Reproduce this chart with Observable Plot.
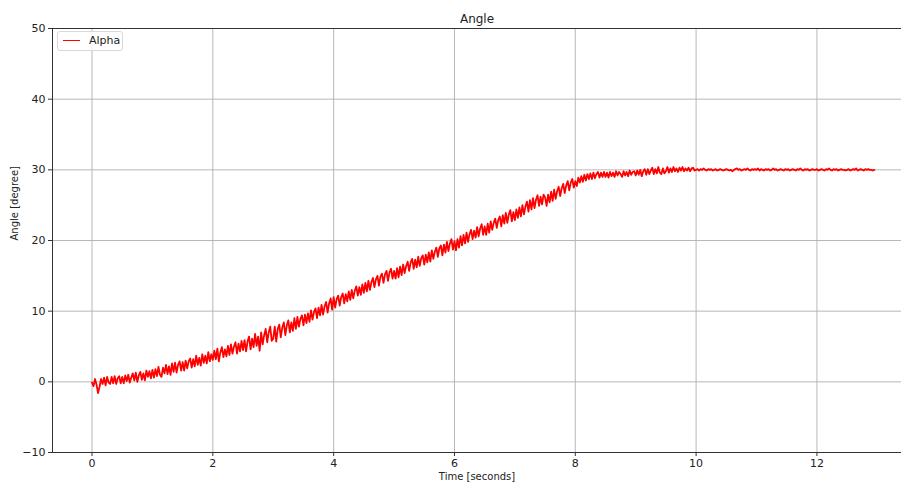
<!DOCTYPE html>
<html><head><meta charset="utf-8">
<script src="https://cdn.jsdelivr.net/npm/d3@7"></script>
<script src="https://cdn.jsdelivr.net/npm/@observablehq/plot@0.6"></script>
<style>
html,body{margin:0;padding:0;background:#fff;overflow:hidden}
#wrap{position:relative;width:901px;height:484px}
.legend{position:absolute;left:57px;top:31px;width:64px;height:18px;border:1px solid #d8d8d8;border-radius:3px;background:rgba(255,255,255,0.85);font:11px "DejaVu Sans",sans-serif;color:#222}
.legend .sw{position:absolute;left:5px;top:8px;width:17px;height:0;border-top:1.8px solid #ff0000}
.legend .lb{position:absolute;left:31px;top:2px}
</style></head>
<body>
<div id="wrap"><div id="chart"></div>
<div class="legend"><span class="sw"></span><span class="lb">Alpha</span></div>
</div>
<script>
const title = "Angle";
const xLabel = "Time [seconds]";
const yLabel = "Angle [degree]";
const seriesName = "Alpha";
const t0 = 0, dt = 0.025;
const xTicks = [0, 2, 4, 6, 8, 10, 12];
const yTicks = [-10, 0, 10, 20, 30, 40, 50];
const alpha = [
 -0.1,-0.6,0.4,-0.4,-1.6,-0.7,0.4,-0.3,0.6,-0.5,0.7,-0.1,-0.3,0.7,-0.2,0.8,-0.3,0.5,0.8,-0.2,
 0.7,-0.2,0.9,0.1,1.0,-0.1,0.6,1.2,0.2,1.3,0.0,0.9,1.4,0.3,1.2,0.2,1.6,0.7,1.5,0.5,
 1.7,0.6,1.8,0.8,2.1,1.0,0.7,2.0,1.2,2.4,1.1,2.2,1.0,2.6,1.4,2.7,1.3,2.4,2.9,1.6,
 2.8,1.6,3.0,1.9,2.9,3.3,2.0,3.2,2.2,3.7,2.4,3.4,2.3,3.9,2.7,3.7,2.6,4.2,2.9,3.9,
 3.1,4.4,3.2,4.7,2.9,4.2,4.9,3.5,4.6,3.6,5.1,3.8,5.3,4.0,5.0,5.6,4.0,5.4,4.3,5.8,
 4.5,5.9,4.3,5.7,6.4,4.6,6.1,4.9,6.8,5.1,6.4,4.4,7.0,5.3,6.6,7.5,5.6,7.0,7.8,5.8,
 6.1,7.8,5.7,7.5,8.1,6.3,7.7,8.4,6.6,8.0,8.7,7.0,8.4,7.2,9.0,7.5,9.2,7.8,8.9,9.4,
 8.0,9.5,8.3,9.7,8.5,10.1,8.8,9.9,10.4,9.0,10.5,9.4,10.9,9.5,10.7,11.3,9.8,11.1,11.8,10.2,
 12.0,10.5,11.7,12.2,10.8,12.0,12.5,11.1,12.4,11.4,12.8,11.6,13.0,11.8,12.9,13.5,12.2,13.4,12.3,13.8,
 12.6,14.0,12.8,14.3,13.0,14.1,14.7,13.4,14.5,15.0,13.6,14.9,15.3,14.0,15.2,15.7,14.3,15.5,16.0,14.6,
 15.7,14.6,16.1,14.8,16.3,15.1,16.6,15.4,16.4,17.0,15.7,16.9,17.4,16.0,17.3,16.2,17.7,16.4,17.5,17.9,
 16.6,18.0,16.9,18.3,17.0,18.6,17.4,18.4,19.0,17.7,18.9,19.3,17.9,19.4,18.3,19.8,18.5,19.6,20.2,18.7,
 19.9,18.6,20.2,19.0,20.6,19.3,20.8,19.6,21.1,19.8,20.9,21.5,20.2,21.4,20.4,21.9,20.6,21.7,22.3,20.8,
 22.0,20.8,22.4,21.1,22.7,21.5,22.5,23.1,21.8,22.9,23.4,22.0,23.6,22.4,23.9,22.5,23.7,24.3,22.7,24.0,
 22.9,24.4,23.2,24.7,23.4,25.0,23.7,24.8,25.5,24.1,25.7,24.4,26.0,24.6,25.8,26.4,24.9,26.2,25.1,26.5,
 26.1,24.9,26.5,25.4,26.9,25.6,27.2,25.9,27.0,27.6,26.3,27.4,28.0,26.7,27.8,28.4,27.1,28.2,28.7,27.5,
 28.4,27.7,28.9,28.2,29.1,28.3,29.3,28.5,29.4,28.7,29.5,28.7,29.6,28.8,29.4,29.7,28.9,29.6,29.0,29.7,
 29.0,29.6,28.9,29.7,29.1,29.6,29.0,29.8,29.2,29.7,29.4,29.0,29.8,29.2,29.7,29.1,29.9,29.3,29.7,29.8,
 29.2,29.9,29.3,30.0,29.1,29.8,30.1,29.3,30.1,29.4,29.9,30.3,29.4,30.1,29.5,30.4,29.6,29.4,30.2,29.5,
 29.8,30.4,29.6,30.2,29.7,30.4,29.8,30.2,29.7,30.3,29.9,30.4,29.8,30.2,29.9,30.3,29.8,30.2,30.3,29.9,
 30.0,30.1,29.9,30.1,30.0,30.2,30.0,29.9,30.1,30.0,30.1,29.9,30.0,30.1,29.9,30.0,30.1,30.0,29.9,30.0,
 30.1,30.0,29.9,30.0,29.8,30.0,30.1,30.2,30.0,30.1,29.9,30.0,30.1,30.0,30.2,30.0,29.9,30.1,30.0,30.1,
 30.0,30.2,29.9,30.1,30.0,29.9,30.1,30.0,30.1,29.9,30.0,30.2,30.0,30.1,29.9,30.0,30.1,30.0,29.9,30.1,
 30.0,30.1,29.9,30.0,30.1,30.0,29.9,30.1,30.0,30.2,30.0,29.9,30.1,30.0,30.1,29.9,30.0,30.1,30.0,30.0,
 30.1,29.9,30.0,30.1,30.0,29.9,30.1,30.0,30.2,30.0,29.9,30.1,30.0,30.1,29.9,30.0,30.1,30.0,30.0,29.9,
 30.0,30.1,29.9,30.0,30.1,30.0,30.2,29.9,30.0,30.1,30.0,29.9,30.1,30.0,30.1,30.0,30.0,29.9,30.0
];
const data = alpha.map((v, i) => ({t: +(t0 + i * dt).toFixed(3), a: v}));
const fmt = d => d < 0 ? "\u2212" + (-d) : String(d);
const xDomain = [-0.654, 13.40];
const yDomain = [-10, 50];
const spine = "#333";
const grid = "#b0b0b0";

const chart = Plot.plot({
  width: 901, height: 484,
  marginLeft: 52, marginRight: 0, marginTop: 28, marginBottom: 32,
  style: {fontFamily: "'DejaVu Sans', sans-serif", fontSize: "11px", color: "#222", background: "#fff"},
  x: {domain: xDomain, ticks: xTicks},
  y: {domain: yDomain, ticks: yTicks},
  marks: [
    Plot.gridX(xTicks, {stroke: grid, strokeOpacity: 1, strokeWidth: 0.9}),
    Plot.gridY(yTicks, {stroke: grid, strokeOpacity: 1, strokeWidth: 0.9}),
    Plot.line(data, {x: "t", y: "a", stroke: "#ff0000", strokeWidth: 1.8}),
    Plot.ruleX([xDomain[0]], {stroke: spine, strokeWidth: 1}),
    Plot.ruleY([yDomain[0]], {stroke: spine, strokeWidth: 1}),
    Plot.ruleY([yDomain[1]], {stroke: spine, strokeWidth: 1}),
    Plot.axisX(xTicks, {tickSize: 4, tickPadding: 3, tickFormat: fmt, label: null, stroke: spine}),
    Plot.axisY(yTicks, {tickSize: 4, tickPadding: 3, tickFormat: fmt, label: null, stroke: spine}),
    Plot.text([title], {frameAnchor: "top", dy: -14, fontSize: 12, fill: "#222"}),
    Plot.text([xLabel], {frameAnchor: "bottom", dy: 27, fontSize: 10, fill: "#222"}),
    Plot.text([yLabel], {frameAnchor: "left", dx: -38, rotate: -90, fontSize: 10, fill: "#222"})
  ]
});
document.getElementById("chart").appendChild(chart);
</script>
</body></html>
